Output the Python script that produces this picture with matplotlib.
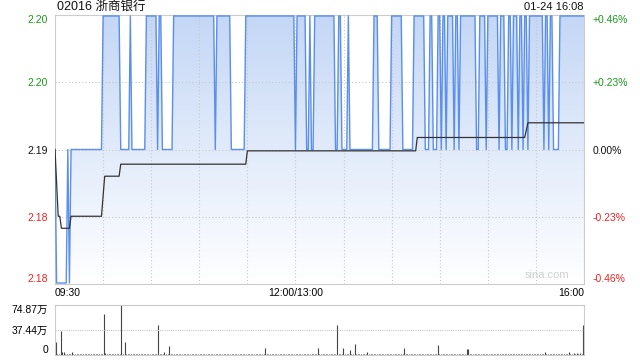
import numpy as np
import matplotlib
matplotlib.use("Agg")
import matplotlib.pyplot as plt
from matplotlib.patches import Polygon

plt.rcParams['font.family'] = ['Liberation Sans', 'Noto Sans CJK SC', 'DejaVu Sans']

# ---------------- data ----------------
title_text = "02016 浙商银行"
stamp_text = "01-24 16:08"
prev_close = 2.19
time_labels = ["09:30", "12:00/13:00", "16:00"]
left_labels = ["2.20", "2.20", "2.19", "2.18", "2.18"]
right_labels = ["+0.46%", "+0.23%", "0.00%", "-0.23%", "-0.46%"]
pct_levels = [0.46, 0.23, 0.0, -0.23, -0.46]
vol_labels = ["74.87万", "37.44万", "0"]
vol_max = 74.87  # 万

# price per minute as run-length (price, minutes)
price_runs = [
    (2.19, 1), (2.18, 7), (2.19, 1), (2.18, 1), (2.19, 20), (2.20, 11), (2.19, 6),
    (2.20, 1), (2.19, 9), (2.20, 7), (2.19, 1), (2.20, 2), (2.19, 7), (2.20, 26),
    (2.19, 1), (2.20, 9), (2.19, 9), (2.20, 31),
    (2.19, 1), (2.20, 6), (2.19, 2), (2.20, 1), (2.19, 2), (2.20, 13), (2.19, 2),
    (2.20, 2), (2.19, 4), (2.20, 1), (2.19, 15), (2.20, 3), (2.19, 8), (2.20, 7),
    (2.19, 7), (2.20, 7), (2.19, 3), (2.20, 2), (2.19, 3), (2.20, 2), (2.19, 1),
    (2.20, 2), (2.19, 1), (2.20, 4), (2.19, 1), (2.20, 2), (2.19, 1), (2.20, 10),
    (2.19, 2), (2.20, 4), (2.19, 1), (2.20, 7), (2.19, 1), (2.20, 3), (2.19, 2),
    (2.20, 2), (2.19, 1), (2.20, 3), (2.19, 1), (2.20, 2), (2.19, 1), (2.20, 2),
    (2.19, 1), (2.20, 9), (2.19, 1), (2.20, 2), (2.19, 1), (2.20, 2), (2.19, 4),
    (2.20, 16),
]

# average price line vertices (minute, price)
avg_minutes = [0, 2, 3, 4, 9, 10, 29, 31, 40, 41, 119, 120, 225, 226, 293, 295, 330]
avg_prices = [2.19, 2.185, 2.185, 2.1841, 2.1841, 2.185, 2.185, 2.188, 2.188,
              2.1889, 2.1889, 2.1899, 2.1899, 2.1909, 2.1909, 2.192, 2.192]

# volume (万): notable bars, others small
vol_base = 1.2
vol_spikes = {0: 20, 3: 36.4, 4: 5, 5: 4, 10: 4.5, 30: 61.4, 31: 3, 41: 74.87,
              43: 20, 64: 45, 68: 4, 71: 13.5, 131: 11, 164: 11, 176: 45, 180: 11,
              184: 7, 187: 16.5, 195: 5, 218: 11, 239: 15, 257: 9.5, 258: 9.5,
              306: 5, 321: 4.5, 324: 3, 326: 3.5, 328: 3, 330: 45}

# ---------------- build ----------------
price = np.concatenate([np.full(n, p) for p, n in price_runs])
n_min = len(price)
minutes = np.arange(n_min)
volume = np.full(n_min, vol_base)
for k, v in vol_spikes.items():
    volume[k] = v

levels = [prev_close * (1 + p / 100) for p in pct_levels]
ytop, ybot = levels[0], levels[-1]
xmax = n_min - 1

W, H = 640, 360
fig = plt.figure(figsize=(6.4, 3.6), dpi=100)
L, R = 55, 584
ax = fig.add_axes([L / W, 1 - 284 / H, (R - L) / W, (284 - 15) / H])
axv = fig.add_axes([L / W, 1 - 355 / H, (R - L) / W, (355 - 305) / H])

ax.set_xlim(0, xmax)
ax.set_ylim(ybot, ytop)

# gradient fill under price
grad = np.linspace(0, 1, 256).reshape(-1, 1)
top_c = np.array([196, 215, 246]) / 255
bot_c = np.array([255, 255, 255]) / 255
img = top_c[None, None, :] * (1 - grad[:, :, None]) + bot_c[None, None, :] * grad[:, :, None]
im = ax.imshow(img, extent=(0, xmax, ybot, ytop), aspect='auto', origin='upper', zorder=1)
poly_pts = np.column_stack([np.r_[minutes, xmax, 0], np.r_[price, ybot, ybot]])
poly = Polygon(poly_pts, closed=True, facecolor='none', edgecolor='none')
ax.add_patch(poly)
im.set_clip_path(poly)

# grid
grid_kw = dict(color='#c8c8c8', lw=0.8, ls=(0, (1, 2)), zorder=2)
for t in range(30, xmax, 30):
    ax.axvline(t, **grid_kw)
for lv in levels[1:-1]:
    ax.axhline(lv, **grid_kw)

ax.plot(minutes, price, color='#4a84ea', lw=1.0, alpha=0.9, zorder=3)
ax.plot(avg_minutes, avg_prices, color='#333333', lw=0.9, zorder=4)

for s in ax.spines.values():
    s.set_color('#cccccc')
    s.set_linewidth(0.8)
ax.set_xticks([])
ax.set_yticks(levels)
colors = ['#1a9a1a', '#1a9a1a', '#111111', '#ee2222', '#ee2222']
ax.set_yticklabels(left_labels, fontsize=7.5)
ax.tick_params(axis='y', length=0, pad=5)
for lab, c in zip(ax.get_yticklabels(), colors):
    lab.set_color(c)
ylabs = ax.get_yticklabels()
ylabs[0].set_verticalalignment('top')
ylabs[-1].set_verticalalignment('bottom')

axr = ax.twinx()
axr.set_ylim(ybot, ytop)
axr.set_yticks(levels)
axr.set_yticklabels(right_labels, fontsize=7.5)
axr.tick_params(axis='y', length=0, pad=6)
for lab, c in zip(axr.get_yticklabels(), colors):
    lab.set_color(c)
rl = axr.get_yticklabels()
rl[0].set_verticalalignment('top')
rl[-1].set_verticalalignment('bottom')
for s in axr.spines.values():
    s.set_visible(False)

# title & stamp
fig.text(57 / W, 1 - 7 / H, title_text, fontsize=9, va='center', ha='left', color='#111111')
fig.text(584 / W, 1 - 7 / H, stamp_text, fontsize=8, va='center', ha='right', color='#111111')

# time labels
ax.text(0, -0.015, time_labels[0], transform=ax.get_xaxis_transform(), ha='left', va='top', fontsize=7.5)
ax.text(150, -0.015, time_labels[1], transform=ax.get_xaxis_transform(), ha='center', va='top', fontsize=7.5)
ax.text(xmax, -0.015, time_labels[2], transform=ax.get_xaxis_transform(), ha='right', va='top', fontsize=7.5)

# watermark
ax.text(0.93, 0.035, "sina.com", transform=ax.transAxes, ha='center', va='center',
        fontsize=8, color='#d0d0d0', zorder=5)

# volume
axv.set_xlim(-0.5, xmax + 0.5)
axv.set_ylim(0, vol_max)
axv.vlines(minutes, 0, volume, color='#444444', lw=0.8)
axv.axhline(vol_max / 2, color='#c8c8c8', lw=0.8, ls=(0, (1, 1)))
axv.set_xticks([])
axv.set_yticks([vol_max, vol_max / 2, 0])
axv.set_yticklabels(vol_labels, fontsize=7.5)
axv.tick_params(axis='y', length=0, pad=5)
vl = axv.get_yticklabels()
vl[0].set_verticalalignment('top')
vl[-1].set_verticalalignment('bottom')
axv.spines['top'].set_color('#c8c8c8')
axv.spines['top'].set_linestyle((0, (1, 1)))
for k in ['left', 'right', 'bottom']:
    axv.spines[k].set_color('#cccccc')
for s in axv.spines.values():
    s.set_linewidth(0.8)

fig.savefig("out.png", dpi=100)
